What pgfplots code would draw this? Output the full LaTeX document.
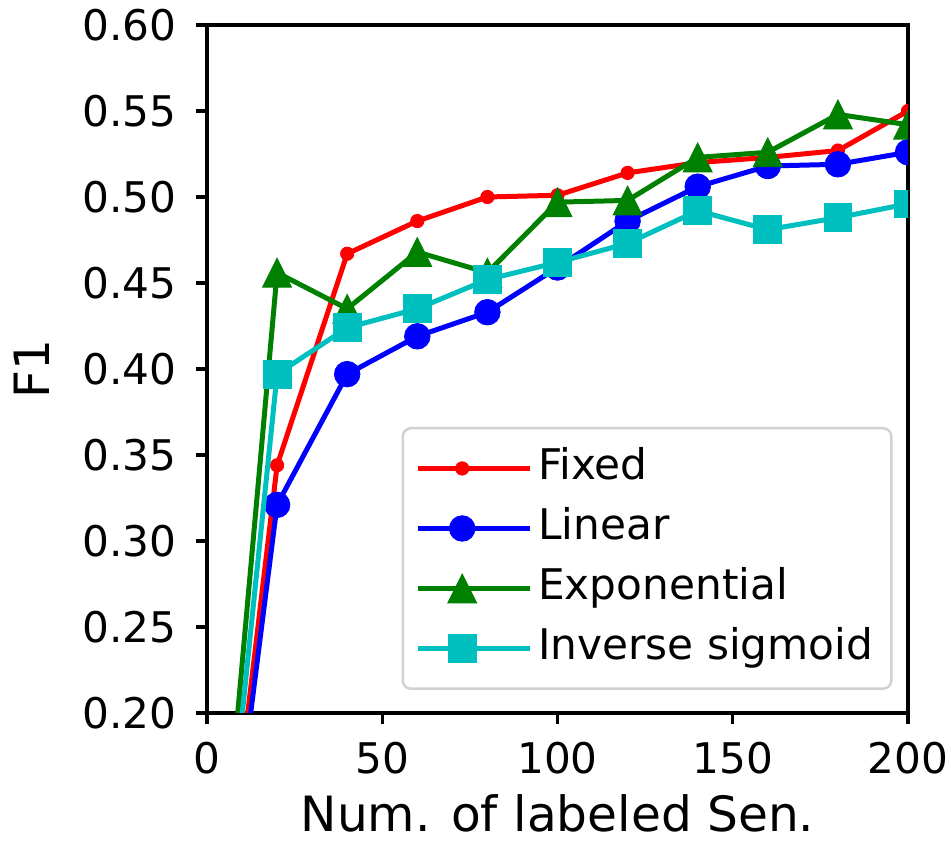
\documentclass[border=0pt]{standalone}
\usepackage{pgfplots}
\pgfplotsset{compat=1.18}
\usepackage{fontspec}
\setmainfont{DejaVu Sans}
\definecolor{mred}{HTML}{FF0000}
\definecolor{mblue}{HTML}{0000FF}
\definecolor{mgreen}{HTML}{008000}
\definecolor{mcyan}{HTML}{00BFBF}
\pgfdeclareplotmark{mtri}{%
  \pgfpathmoveto{\pgfqpoint{0pt}{\pgfplotmarksize}}%
  \pgfpathlineto{\pgfqpoint{-\pgfplotmarksize}{-\pgfplotmarksize}}%
  \pgfpathlineto{\pgfqpoint{\pgfplotmarksize}{-\pgfplotmarksize}}%
  \pgfpathclose\pgfusepathqfillstroke}
\begin{document}
\begin{tikzpicture}
\begin{axis}[
  name=ax,
  scale only axis,
  width=252.36pt, height=247.68pt,
  xmin=0, xmax=200, ymin=0.2, ymax=0.6,
  xtick={0,50,100,150,200},
  ytick={0.20,0.25,0.30,0.35,0.40,0.45,0.50,0.55,0.60},
  yticklabel style={/pgf/number format/fixed,/pgf/number format/fixed zerofill,/pgf/number format/precision=2},
  /pgf/number format/assume math mode=true,
  tick align=outside,
  tick pos=left,
  major tick length=4pt,
  every tick/.style={black, line width=1.1pt},
  axis line style={line width=1.1pt},
  ticklabel style={font=\fontsize{15.2pt}{17pt}\selectfont},
  xticklabel style={yshift=-3pt},
  yticklabel style={xshift=-3.5pt},
  label style={font=\fontsize{17.5pt}{21pt}\selectfont},
  xlabel={Num. of labeled Sen.},
  ylabel={F1},
  xlabel style={yshift=-0.5pt},
  ylabel style={yshift=5pt},
  clip marker paths=true,
  every axis plot/.append style={line width=1.8pt},
  legend cell align=left,
  legend style={
    at={(0.978,0.0334)}, anchor=south east,
    draw=black!18, line width=0.9pt, rounded corners=3pt,
    font=\fontsize{15.2pt}{18pt}\selectfont,
    inner xsep=4.5pt, inner ysep=5pt,
    row sep=2.6pt,
    nodes={text height=11.5pt, text depth=3.5pt, inner sep=2pt},
  },
  legend image code/.code={%
    \draw[mark repeat=2,mark phase=2] plot coordinates {(0pt,0pt)(16pt,0pt)(32pt,0pt)};
    \path (0pt,0pt) -- (40.5pt,0pt);},
]
\addplot[mred, mark=*, mark size=2.4pt, mark options={solid, line width=0.3pt}] coordinates {
 (0,0) (20,0.344) (40,0.467) (60,0.486) (80,0.500) (100,0.501) (120,0.514) (140,0.520) (160,0.523) (180,0.527) (200,0.550)};
\addlegendentry{Fixed}
\addplot[mblue, mark=*, mark size=4.6pt, mark options={solid, line width=0.3pt}] coordinates {
 (0,0) (20,0.321) (40,0.397) (60,0.419) (80,0.433) (100,0.459) (120,0.486) (140,0.506) (160,0.518) (180,0.519) (200,0.526)};
\addlegendentry{Linear}
\addplot[mgreen, mark=mtri, mark size=5.2pt, mark options={solid, line width=0.3pt}] coordinates {
 (0,0) (20,0.456) (40,0.435) (60,0.468) (80,0.456) (100,0.497) (120,0.498) (140,0.523) (160,0.526) (180,0.548) (200,0.542)};
\addlegendentry{Exponential}
\addplot[mcyan, mark=square*, mark size=5pt, mark options={solid, line width=0.3pt}] coordinates {
 (0,0) (20,0.397) (40,0.424) (60,0.435) (80,0.452) (100,0.462) (120,0.473) (140,0.492) (160,0.481) (180,0.488) (200,0.496)};
\addlegendentry{Inverse sigmoid}
\end{axis}
\pgfresetboundingbox
\path[use as bounding box] ([xshift=-74.52pt,yshift=-46.44pt]ax.south west) rectangle ([xshift=15.48pt,yshift=9pt]ax.north east);
\end{tikzpicture}
\end{document}
